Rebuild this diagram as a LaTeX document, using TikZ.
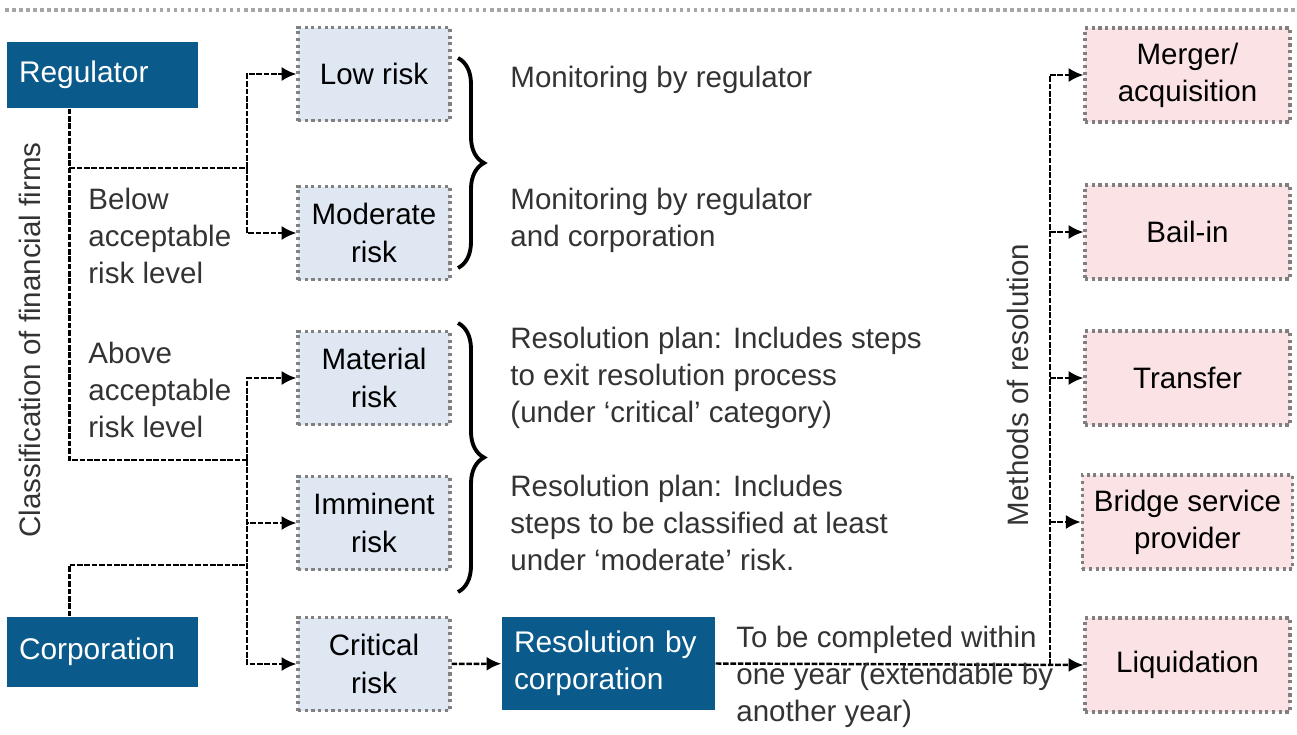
\documentclass[tikz,border=0pt]{standalone}
\usepackage{fontspec}
\setmainfont{Liberation Sans}
\usetikzlibrary{arrows.meta,decorations.pathreplacing}
\definecolor{regblue}{RGB}{10,90,140}
\definecolor{riskfill}{RGB}{222,231,242}
\definecolor{methfill}{RGB}{250,226,229}
\tikzset{
	darkbox/.style={fill=regblue, text=white, font=\fontsize{8.5}{10.4}\selectfont, align=left, inner xsep=1.2mm},
	riskbox/.style={fill=riskfill, draw=gray, densely dotted, line width=0.9pt, minimum width=15.2mm, minimum height=9.3mm, align=center},
	methbox/.style={fill=methfill, draw=gray, densely dotted, line width=0.9pt, minimum width=20.5mm, minimum height=9.4mm, align=center},
	link/.style={line width=0.7pt, dash pattern=on 1.6pt off 0.5pt},
	linkarrow/.style={link, -{Latex[length=4.2pt,width=4pt]}},
	note/.style={align=left, anchor=west, text=black!80},
	curly/.style={decorate, decoration={brace, amplitude=2.6mm}, line width=1.1pt}
}

\begin{document}
\begin{tikzpicture}[x=0.1mm, y=-0.1mm, font=\fontsize{8.4}{10.6}\selectfont]
			%%%%% START %%%%%
			\useasboundingbox (0,0) rectangle (1297,735);
			
			\draw[gray!70, line width=1pt, densely dotted] (5,10) -- (1297,10);
			
			% who classifies
			\node[darkbox, text width=16.7mm, minimum height=6.6mm] (reg) at (102.5,75) {Regulator};
			\node[darkbox, text width=16.7mm, minimum height=7mm] (corp) at (102.5,652) {Corporation};
			\node[rotate=90, text=black!80] (classlbl) at (30,340) {Classification of financial firms};
			
			% risk levels
			\node[riskbox] (low) at (374,74) {Low risk};
			\node[riskbox] (moderate) at (374,233) {Moderate\\risk};
			\node[riskbox] (material) at (374,378) {Material\\risk};
			\node[riskbox] (imminent) at (374,523) {Imminent\\risk};
			\node[riskbox] (critical) at (374,664) {Critical\\risk};
			
			\node[note] (below) at (76,236) {Below\\acceptable\\risk level};
			\node[note] (above) at (76,390) {Above\\acceptable\\risk level};
			
			\coordinate (jup) at (247,168);
			\coordinate (jlow) at (247,460);
			\coordinate (jcorp) at (247,565);
			\coordinate (regfoot) at ([xshift=6.3mm]reg.south west);
			\coordinate (corptop) at ([xshift=6.3mm]corp.north west);
			
			\draw[link] (regfoot) |- (jlow);
			\draw[link] (regfoot |- jup) -- (jup);
			\draw[link] (corptop) |- (jcorp);
			\draw[linkarrow] (jup) |- (low.west);
			\draw[linkarrow] (jup) |- (moderate.west);
			\draw[linkarrow] (jlow) |- (material.west);
			\draw[linkarrow] (jlow) |- (imminent.west);
			\draw[linkarrow] (jlow) |- (critical.west);
			
			% what follows
			\draw[curly] (458,58) -- (458,268);
			\draw[curly] (458,323) -- (458,592);
			
			\node[note] (mon1) at (498,80) {Monitoring by regulator};
			\node[note] (mon2) at (498,220) {Monitoring by regulator\\and corporation};
			\node[note] (plan1) at (498,378) {Resolution plan: Includes steps\\to exit resolution process\\(under `critical' category)};
			\node[note] (plan2) at (498,523) {Resolution plan: Includes\\steps to be classified at least\\under `moderate' risk.};
			
			\node[darkbox, text width=18.9mm, minimum height=9.3mm] (resolve) at (608.5,663.5) {Resolution by\\corporation};
			\draw[linkarrow] (critical) -- (resolve);
			
			% methods
			\node[methbox] (merger) at (1187.5,75) {Merger/\\acquisition};
			\node[methbox] (bailin) at (1187.5,232) {Bail-in};
			\node[methbox] (transfer) at (1187.5,378) {Transfer};
			\node[methbox] (bridge) at (1187.5,522) {Bridge service\\provider};
			\node[methbox] (liquid) at (1187.5,665) {Liquidation};
			\node[rotate=90, text=black!80] (methlbl) at (1018,385) {Methods of resolution};
			
			\coordinate (jmeth) at (1050,665);
			\draw[linkarrow] (resolve.east) -- (liquid.west);
			\draw[link] (jmeth) -- (jmeth |- merger.west);
			\foreach \m in {merger,bailin,transfer,bridge}
				\draw[linkarrow] (jmeth |- \m.west) -- (\m.west);
			
			\node[note] (deadline) at (724,677) {To be completed within\\one year (extendable by\\another year)};
			
			%%%%% END %%%%%
\end{tikzpicture}
\end{document}
